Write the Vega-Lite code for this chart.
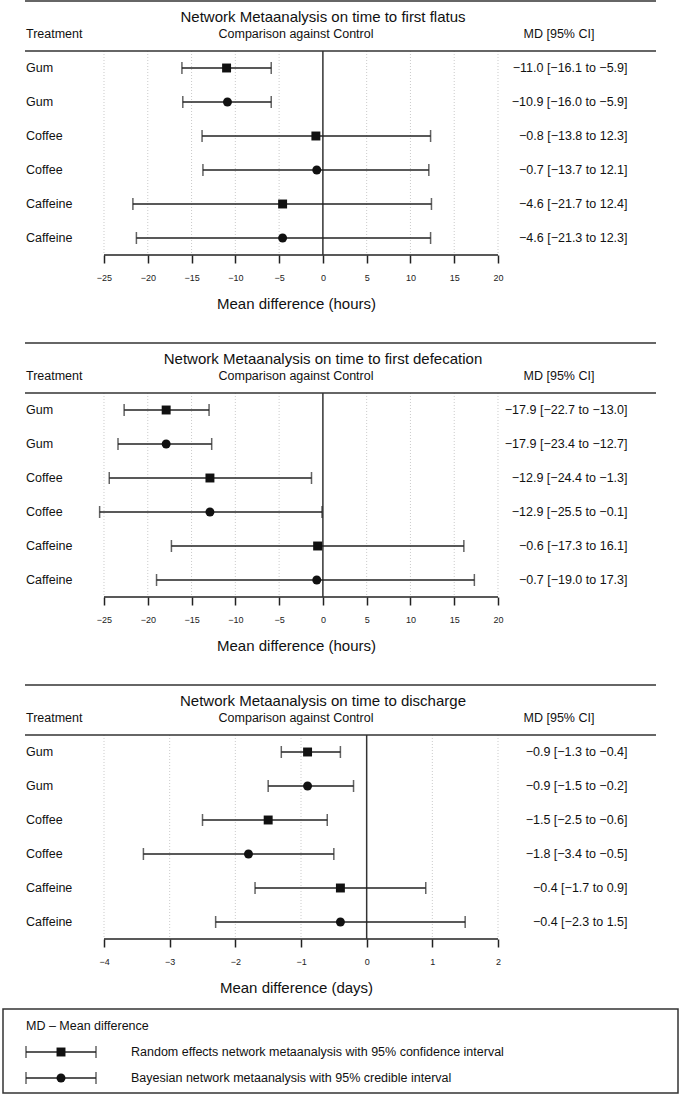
{
  "$schema": "https://vega.github.io/schema/vega-lite/v6.json",
  "padding": 0,
  "bounds": "flush",
  "spacing": 0,
  "background": "white",
  "config": {"font": "Liberation Sans", "view": {"stroke": null}},
  "datasets": {
    "results": [
      {"panel": "flatus", "row": 1, "treatment": "Gum", "method": "RE", "md": -11.0, "lo": -16.1, "hi": -5.9, "label": "−11.0 [−16.1 to −5.9]"},
      {"panel": "flatus", "row": 2, "treatment": "Gum", "method": "Bayes", "md": -10.9, "lo": -16.0, "hi": -5.9, "label": "−10.9 [−16.0 to −5.9]"},
      {"panel": "flatus", "row": 3, "treatment": "Coffee", "method": "RE", "md": -0.8, "lo": -13.8, "hi": 12.3, "label": "−0.8 [−13.8 to 12.3]"},
      {"panel": "flatus", "row": 4, "treatment": "Coffee", "method": "Bayes", "md": -0.7, "lo": -13.7, "hi": 12.1, "label": "−0.7 [−13.7 to 12.1]"},
      {"panel": "flatus", "row": 5, "treatment": "Caffeine", "method": "RE", "md": -4.6, "lo": -21.7, "hi": 12.4, "label": "−4.6 [−21.7 to 12.4]"},
      {"panel": "flatus", "row": 6, "treatment": "Caffeine", "method": "Bayes", "md": -4.6, "lo": -21.3, "hi": 12.3, "label": "−4.6 [−21.3 to 12.3]"},
      {"panel": "defecation", "row": 1, "treatment": "Gum", "method": "RE", "md": -17.9, "lo": -22.7, "hi": -13.0, "label": "−17.9 [−22.7 to −13.0]"},
      {"panel": "defecation", "row": 2, "treatment": "Gum", "method": "Bayes", "md": -17.9, "lo": -23.4, "hi": -12.7, "label": "−17.9 [−23.4 to −12.7]"},
      {"panel": "defecation", "row": 3, "treatment": "Coffee", "method": "RE", "md": -12.9, "lo": -24.4, "hi": -1.3, "label": "−12.9 [−24.4 to −1.3]"},
      {"panel": "defecation", "row": 4, "treatment": "Coffee", "method": "Bayes", "md": -12.9, "lo": -25.5, "hi": -0.1, "label": "−12.9 [−25.5 to −0.1]"},
      {"panel": "defecation", "row": 5, "treatment": "Caffeine", "method": "RE", "md": -0.6, "lo": -17.3, "hi": 16.1, "label": "−0.6 [−17.3 to 16.1]"},
      {"panel": "defecation", "row": 6, "treatment": "Caffeine", "method": "Bayes", "md": -0.7, "lo": -19.0, "hi": 17.3, "label": "−0.7 [−19.0 to 17.3]"},
      {"panel": "discharge", "row": 1, "treatment": "Gum", "method": "RE", "md": -0.9, "lo": -1.3, "hi": -0.4, "label": "−0.9 [−1.3 to −0.4]"},
      {"panel": "discharge", "row": 2, "treatment": "Gum", "method": "Bayes", "md": -0.9, "lo": -1.5, "hi": -0.2, "label": "−0.9 [−1.5 to −0.2]"},
      {"panel": "discharge", "row": 3, "treatment": "Coffee", "method": "RE", "md": -1.5, "lo": -2.5, "hi": -0.6, "label": "−1.5 [−2.5 to −0.6]"},
      {"panel": "discharge", "row": 4, "treatment": "Coffee", "method": "Bayes", "md": -1.8, "lo": -3.4, "hi": -0.5, "label": "−1.8 [−3.4 to −0.5]"},
      {"panel": "discharge", "row": 5, "treatment": "Caffeine", "method": "RE", "md": -0.4, "lo": -1.7, "hi": 0.9, "label": "−0.4 [−1.7 to 0.9]"},
      {"panel": "discharge", "row": 6, "treatment": "Caffeine", "method": "Bayes", "md": -0.4, "lo": -2.3, "hi": 1.5, "label": "−0.4 [−2.3 to 1.5]"}
    ],
    "panels": [
      {"panel": "flatus", "title": "Network Metaanalysis on time to first flatus", "treat": "Treatment", "comp": "Comparison against Control", "mdh": "MD [95% CI]"},
      {"panel": "defecation", "title": "Network Metaanalysis on time to first defecation", "treat": "Treatment", "comp": "Comparison against Control", "mdh": "MD [95% CI]"},
      {"panel": "discharge", "title": "Network Metaanalysis on time to discharge", "treat": "Treatment", "comp": "Comparison against Control", "mdh": "MD [95% CI]"}
    ],
    "ticks_hours": [{"v": -25}, {"v": -20}, {"v": -15}, {"v": -10}, {"v": -5}, {"v": 5}, {"v": 10}, {"v": 15}, {"v": 20}],
    "ticks_days": [{"v": -4}, {"v": -3}, {"v": -2}, {"v": -1}, {"v": 1}, {"v": 2}],
    "legend_head": [{"text": "MD – Mean difference"}],
    "legend_items": [
      {"order": 1, "method": "RE", "text": "Random effects network metaanalysis with 95% confidence interval"},
      {"order": 2, "method": "Bayes", "text": "Bayesian network metaanalysis with 95% credible interval"}
    ]
  },
  "vconcat": [
    {
      "width": 681, "height": 255,
      "layer": [
        {"data": {"name": "ticks_hours"}, "mark": {"type": "rule", "color": "#bdbdbd", "strokeWidth": 0.8, "strokeDash": [1, 2]},
         "encoding": {"x": {"field": "v", "type": "quantitative", "scale": {"domain": [-36.878, 40.901], "nice": false, "zero": false},
                            "axis": {"values": [-25, -20, -15, -10, -5, 0, 5, 10, 15, 20], "format": "d", "title": "Mean difference (hours)", "domain": false, "grid": false, "tickSize": 8, "tickWidth": 1.5, "tickColor": "#222", "labelFontSize": 9, "labelColor": "#222", "labelPadding": 10, "labelFlush": false, "labelOverlap": false, "titleFontSize": 15, "titleFontWeight": "normal", "titleColor": "#111", "titleX": 296, "titleY": 48, "titleBaseline": "middle", "titleAlign": "center"}},
                      "y": {"datum": 0.5, "type": "quantitative", "scale": {"domain": [-1, 6.5], "nice": false, "zero": false, "reverse": true}, "axis": null}, "y2": {"datum": 6.5}}},
        {"data": {"name": "panels"}, "transform": [{"filter": "datum.panel === 'flatus'"}], "mark": {"type": "rule", "color": "#333", "strokeWidth": 1.5},
         "encoding": {"x": {"datum": -34.023, "type": "quantitative"}, "x2": {"datum": 38.046}, "y": {"datum": -0.97, "type": "quantitative"}}},
        {"data": {"name": "panels"}, "transform": [{"filter": "datum.panel === 'flatus'"}], "mark": {"type": "rule", "color": "#333", "strokeWidth": 1.5},
         "encoding": {"x": {"datum": -34.023, "type": "quantitative"}, "x2": {"datum": 38.046}, "y": {"datum": 0.5, "type": "quantitative"}}},
        {"data": {"name": "panels"}, "transform": [{"filter": "datum.panel === 'flatus'"}], "mark": {"type": "rule", "color": "#222", "strokeWidth": 1.5},
         "encoding": {"x": {"datum": -25, "type": "quantitative"}, "x2": {"datum": 20}, "y": {"datum": 6.5, "type": "quantitative"}}},
        {"data": {"name": "panels"}, "transform": [{"filter": "datum.panel === 'flatus'"}], "mark": {"type": "rule", "color": "#333", "strokeWidth": 1.5},
         "encoding": {"x": {"datum": 0, "type": "quantitative"}, "y": {"datum": 0.5, "type": "quantitative"}, "y2": {"datum": 6.5}}},
        {"data": {"name": "results"}, "transform": [{"filter": "datum.panel === 'flatus'"}], "mark": {"type": "rule", "color": "#222", "strokeWidth": 1.5},
         "encoding": {"x": {"field": "lo", "type": "quantitative"}, "x2": {"field": "hi"}, "y": {"field": "row", "type": "quantitative"}}},
        {"data": {"name": "results"}, "transform": [{"filter": "datum.panel === 'flatus'"}], "mark": {"type": "tick", "orient": "vertical", "size": 12, "thickness": 1.5, "color": "#222"},
         "encoding": {"x": {"field": "lo", "type": "quantitative"}, "y": {"field": "row", "type": "quantitative"}}},
        {"data": {"name": "results"}, "transform": [{"filter": "datum.panel === 'flatus'"}], "mark": {"type": "tick", "orient": "vertical", "size": 12, "thickness": 1.5, "color": "#222"},
         "encoding": {"x": {"field": "hi", "type": "quantitative"}, "y": {"field": "row", "type": "quantitative"}}},
        {"data": {"name": "results"}, "transform": [{"filter": "datum.panel === 'flatus'"}], "mark": {"type": "point", "filled": true, "opacity": 1, "size": 80, "color": "#111"},
         "encoding": {"x": {"field": "md", "type": "quantitative"}, "y": {"field": "row", "type": "quantitative"},
                      "shape": {"field": "method", "type": "nominal", "scale": {"domain": ["RE", "Bayes"], "range": ["square", "circle"]}, "legend": null}}},
        {"data": {"name": "results"}, "transform": [{"filter": "datum.panel === 'flatus'"}], "mark": {"type": "text", "align": "left", "baseline": "middle", "fontSize": 12.5, "color": "#111"},
         "encoding": {"x": {"datum": -33.909, "type": "quantitative"}, "y": {"field": "row", "type": "quantitative"}, "text": {"field": "treatment"}}},
        {"data": {"name": "results"}, "transform": [{"filter": "datum.panel === 'flatus'"}], "mark": {"type": "text", "align": "right", "baseline": "middle", "fontSize": 12.5, "color": "#111"},
         "encoding": {"x": {"datum": 34.791, "type": "quantitative"}, "y": {"field": "row", "type": "quantitative"}, "text": {"field": "label"}}},
        {"data": {"name": "panels"}, "transform": [{"filter": "datum.panel === 'flatus'"}], "mark": {"type": "text", "align": "left", "baseline": "middle", "fontSize": 12.5, "color": "#111"},
         "encoding": {"x": {"datum": -33.909, "type": "quantitative"}, "y": {"datum": 0, "type": "quantitative"}, "text": {"field": "treat"}}},
        {"data": {"name": "panels"}, "transform": [{"filter": "datum.panel === 'flatus'"}], "mark": {"type": "text", "align": "center", "baseline": "middle", "fontSize": 12.5, "color": "#111"},
         "encoding": {"x": {"datum": -3.071, "type": "quantitative"}, "y": {"datum": 0, "type": "quantitative"}, "text": {"field": "comp"}}},
        {"data": {"name": "panels"}, "transform": [{"filter": "datum.panel === 'flatus'"}], "mark": {"type": "text", "align": "center", "baseline": "middle", "fontSize": 12.5, "color": "#111"},
         "encoding": {"x": {"datum": 26.967, "type": "quantitative"}, "y": {"datum": 0, "type": "quantitative"}, "text": {"field": "mdh"}}},
        {"data": {"name": "panels"}, "transform": [{"filter": "datum.panel === 'flatus'"}], "mark": {"type": "text", "align": "center", "baseline": "middle", "fontSize": 15, "color": "#111"},
         "encoding": {"x": {"datum": 0.013, "type": "quantitative"}, "y": {"datum": -0.5, "type": "quantitative"}, "text": {"field": "title"}}}
      ]
    },
    {
      "width": 681, "height": 342,
      "layer": [
        {"data": {"name": "ticks_hours"}, "mark": {"type": "rule", "color": "#bdbdbd", "strokeWidth": 0.8, "strokeDash": [1, 2]},
         "encoding": {"x": {"field": "v", "type": "quantitative", "scale": {"domain": [-36.878, 40.901], "nice": false, "zero": false},
                            "axis": {"values": [-25, -20, -15, -10, -5, 0, 5, 10, 15, 20], "format": "d", "title": "Mean difference (hours)", "domain": false, "grid": false, "tickSize": 8, "tickWidth": 1.5, "tickColor": "#222", "labelFontSize": 9, "labelColor": "#222", "labelPadding": 10, "labelFlush": false, "labelOverlap": false, "titleFontSize": 15, "titleFontWeight": "normal", "titleColor": "#111", "titleX": 296, "titleY": 48, "titleBaseline": "middle", "titleAlign": "center"}},
                      "y": {"datum": 0.5, "type": "quantitative", "scale": {"domain": [-3.5588, 6.5], "nice": false, "zero": false, "reverse": true}, "axis": null}, "y2": {"datum": 6.5}}},
        {"data": {"name": "panels"}, "transform": [{"filter": "datum.panel === 'defecation'"}], "mark": {"type": "rule", "color": "#333", "strokeWidth": 1.5},
         "encoding": {"x": {"datum": -34.023, "type": "quantitative"}, "x2": {"datum": 38.046}, "y": {"datum": -0.97, "type": "quantitative"}}},
        {"data": {"name": "panels"}, "transform": [{"filter": "datum.panel === 'defecation'"}], "mark": {"type": "rule", "color": "#333", "strokeWidth": 1.5},
         "encoding": {"x": {"datum": -34.023, "type": "quantitative"}, "x2": {"datum": 38.046}, "y": {"datum": 0.5, "type": "quantitative"}}},
        {"data": {"name": "panels"}, "transform": [{"filter": "datum.panel === 'defecation'"}], "mark": {"type": "rule", "color": "#222", "strokeWidth": 1.5},
         "encoding": {"x": {"datum": -25, "type": "quantitative"}, "x2": {"datum": 20}, "y": {"datum": 6.5, "type": "quantitative"}}},
        {"data": {"name": "panels"}, "transform": [{"filter": "datum.panel === 'defecation'"}], "mark": {"type": "rule", "color": "#333", "strokeWidth": 1.5},
         "encoding": {"x": {"datum": 0, "type": "quantitative"}, "y": {"datum": 0.5, "type": "quantitative"}, "y2": {"datum": 6.5}}},
        {"data": {"name": "results"}, "transform": [{"filter": "datum.panel === 'defecation'"}], "mark": {"type": "rule", "color": "#222", "strokeWidth": 1.5},
         "encoding": {"x": {"field": "lo", "type": "quantitative"}, "x2": {"field": "hi"}, "y": {"field": "row", "type": "quantitative"}}},
        {"data": {"name": "results"}, "transform": [{"filter": "datum.panel === 'defecation'"}], "mark": {"type": "tick", "orient": "vertical", "size": 12, "thickness": 1.5, "color": "#222"},
         "encoding": {"x": {"field": "lo", "type": "quantitative"}, "y": {"field": "row", "type": "quantitative"}}},
        {"data": {"name": "results"}, "transform": [{"filter": "datum.panel === 'defecation'"}], "mark": {"type": "tick", "orient": "vertical", "size": 12, "thickness": 1.5, "color": "#222"},
         "encoding": {"x": {"field": "hi", "type": "quantitative"}, "y": {"field": "row", "type": "quantitative"}}},
        {"data": {"name": "results"}, "transform": [{"filter": "datum.panel === 'defecation'"}], "mark": {"type": "point", "filled": true, "opacity": 1, "size": 80, "color": "#111"},
         "encoding": {"x": {"field": "md", "type": "quantitative"}, "y": {"field": "row", "type": "quantitative"},
                      "shape": {"field": "method", "type": "nominal", "scale": {"domain": ["RE", "Bayes"], "range": ["square", "circle"]}, "legend": null}}},
        {"data": {"name": "results"}, "transform": [{"filter": "datum.panel === 'defecation'"}], "mark": {"type": "text", "align": "left", "baseline": "middle", "fontSize": 12.5, "color": "#111"},
         "encoding": {"x": {"datum": -33.909, "type": "quantitative"}, "y": {"field": "row", "type": "quantitative"}, "text": {"field": "treatment"}}},
        {"data": {"name": "results"}, "transform": [{"filter": "datum.panel === 'defecation'"}], "mark": {"type": "text", "align": "right", "baseline": "middle", "fontSize": 12.5, "color": "#111"},
         "encoding": {"x": {"datum": 34.791, "type": "quantitative"}, "y": {"field": "row", "type": "quantitative"}, "text": {"field": "label"}}},
        {"data": {"name": "panels"}, "transform": [{"filter": "datum.panel === 'defecation'"}], "mark": {"type": "text", "align": "left", "baseline": "middle", "fontSize": 12.5, "color": "#111"},
         "encoding": {"x": {"datum": -33.909, "type": "quantitative"}, "y": {"datum": 0, "type": "quantitative"}, "text": {"field": "treat"}}},
        {"data": {"name": "panels"}, "transform": [{"filter": "datum.panel === 'defecation'"}], "mark": {"type": "text", "align": "center", "baseline": "middle", "fontSize": 12.5, "color": "#111"},
         "encoding": {"x": {"datum": -3.071, "type": "quantitative"}, "y": {"datum": 0, "type": "quantitative"}, "text": {"field": "comp"}}},
        {"data": {"name": "panels"}, "transform": [{"filter": "datum.panel === 'defecation'"}], "mark": {"type": "text", "align": "center", "baseline": "middle", "fontSize": 12.5, "color": "#111"},
         "encoding": {"x": {"datum": 26.967, "type": "quantitative"}, "y": {"datum": 0, "type": "quantitative"}, "text": {"field": "mdh"}}},
        {"data": {"name": "panels"}, "transform": [{"filter": "datum.panel === 'defecation'"}], "mark": {"type": "text", "align": "center", "baseline": "middle", "fontSize": 15, "color": "#111"},
         "encoding": {"x": {"datum": 0.013, "type": "quantitative"}, "y": {"datum": -0.5, "type": "quantitative"}, "text": {"field": "title"}}}
      ]
    },
    {
      "width": 681, "height": 342,
      "layer": [
        {"data": {"name": "ticks_days"}, "mark": {"type": "rule", "color": "#bdbdbd", "strokeWidth": 0.8, "strokeDash": [1, 2]},
         "encoding": {"x": {"field": "v", "type": "quantitative", "scale": {"domain": [-5.5838, 4.7868], "nice": false, "zero": false},
                            "axis": {"values": [-4, -3, -2, -1, 0, 1, 2], "format": "d", "title": "Mean difference (days)", "domain": false, "grid": false, "tickSize": 8, "tickWidth": 1.5, "tickColor": "#222", "labelFontSize": 9, "labelColor": "#222", "labelPadding": 10, "labelFlush": false, "labelOverlap": false, "titleFontSize": 15, "titleFontWeight": "normal", "titleColor": "#111", "titleX": 296, "titleY": 48, "titleBaseline": "middle", "titleAlign": "center"}},
                      "y": {"datum": 0.5, "type": "quantitative", "scale": {"domain": [-3.5588, 6.5], "nice": false, "zero": false, "reverse": true}, "axis": null}, "y2": {"datum": 6.5}}},
        {"data": {"name": "panels"}, "transform": [{"filter": "datum.panel === 'discharge'"}], "mark": {"type": "rule", "color": "#333", "strokeWidth": 1.5},
         "encoding": {"x": {"datum": -5.203, "type": "quantitative"}, "x2": {"datum": 4.406}, "y": {"datum": -0.97, "type": "quantitative"}}},
        {"data": {"name": "panels"}, "transform": [{"filter": "datum.panel === 'discharge'"}], "mark": {"type": "rule", "color": "#333", "strokeWidth": 1.5},
         "encoding": {"x": {"datum": -5.203, "type": "quantitative"}, "x2": {"datum": 4.406}, "y": {"datum": 0.5, "type": "quantitative"}}},
        {"data": {"name": "panels"}, "transform": [{"filter": "datum.panel === 'discharge'"}], "mark": {"type": "rule", "color": "#222", "strokeWidth": 1.5},
         "encoding": {"x": {"datum": -4, "type": "quantitative"}, "x2": {"datum": 2}, "y": {"datum": 6.5, "type": "quantitative"}}},
        {"data": {"name": "panels"}, "transform": [{"filter": "datum.panel === 'discharge'"}], "mark": {"type": "rule", "color": "#333", "strokeWidth": 1.5},
         "encoding": {"x": {"datum": 0, "type": "quantitative"}, "y": {"datum": 0.5, "type": "quantitative"}, "y2": {"datum": 6.5}}},
        {"data": {"name": "results"}, "transform": [{"filter": "datum.panel === 'discharge'"}], "mark": {"type": "rule", "color": "#222", "strokeWidth": 1.5},
         "encoding": {"x": {"field": "lo", "type": "quantitative"}, "x2": {"field": "hi"}, "y": {"field": "row", "type": "quantitative"}}},
        {"data": {"name": "results"}, "transform": [{"filter": "datum.panel === 'discharge'"}], "mark": {"type": "tick", "orient": "vertical", "size": 12, "thickness": 1.5, "color": "#222"},
         "encoding": {"x": {"field": "lo", "type": "quantitative"}, "y": {"field": "row", "type": "quantitative"}}},
        {"data": {"name": "results"}, "transform": [{"filter": "datum.panel === 'discharge'"}], "mark": {"type": "tick", "orient": "vertical", "size": 12, "thickness": 1.5, "color": "#222"},
         "encoding": {"x": {"field": "hi", "type": "quantitative"}, "y": {"field": "row", "type": "quantitative"}}},
        {"data": {"name": "results"}, "transform": [{"filter": "datum.panel === 'discharge'"}], "mark": {"type": "point", "filled": true, "opacity": 1, "size": 80, "color": "#111"},
         "encoding": {"x": {"field": "md", "type": "quantitative"}, "y": {"field": "row", "type": "quantitative"},
                      "shape": {"field": "method", "type": "nominal", "scale": {"domain": ["RE", "Bayes"], "range": ["square", "circle"]}, "legend": null}}},
        {"data": {"name": "results"}, "transform": [{"filter": "datum.panel === 'discharge'"}], "mark": {"type": "text", "align": "left", "baseline": "middle", "fontSize": 12.5, "color": "#111"},
         "encoding": {"x": {"datum": -5.188, "type": "quantitative"}, "y": {"field": "row", "type": "quantitative"}, "text": {"field": "treatment"}}},
        {"data": {"name": "results"}, "transform": [{"filter": "datum.panel === 'discharge'"}], "mark": {"type": "text", "align": "right", "baseline": "middle", "fontSize": 12.5, "color": "#111"},
         "encoding": {"x": {"datum": 3.972, "type": "quantitative"}, "y": {"field": "row", "type": "quantitative"}, "text": {"field": "label"}}},
        {"data": {"name": "panels"}, "transform": [{"filter": "datum.panel === 'discharge'"}], "mark": {"type": "text", "align": "left", "baseline": "middle", "fontSize": 12.5, "color": "#111"},
         "encoding": {"x": {"datum": -5.188, "type": "quantitative"}, "y": {"datum": 0, "type": "quantitative"}, "text": {"field": "treat"}}},
        {"data": {"name": "panels"}, "transform": [{"filter": "datum.panel === 'discharge'"}], "mark": {"type": "text", "align": "center", "baseline": "middle", "fontSize": 12.5, "color": "#111"},
         "encoding": {"x": {"datum": -1.076, "type": "quantitative"}, "y": {"datum": 0, "type": "quantitative"}, "text": {"field": "comp"}}},
        {"data": {"name": "panels"}, "transform": [{"filter": "datum.panel === 'discharge'"}], "mark": {"type": "text", "align": "center", "baseline": "middle", "fontSize": 12.5, "color": "#111"},
         "encoding": {"x": {"datum": 2.929, "type": "quantitative"}, "y": {"datum": 0, "type": "quantitative"}, "text": {"field": "mdh"}}},
        {"data": {"name": "panels"}, "transform": [{"filter": "datum.panel === 'discharge'"}], "mark": {"type": "text", "align": "center", "baseline": "middle", "fontSize": 15, "color": "#111"},
         "encoding": {"x": {"datum": -0.665, "type": "quantitative"}, "y": {"datum": -0.5, "type": "quantitative"}, "text": {"field": "title"}}}
      ]
    },
    {
      "width": 681, "height": 157,
      "layer": [
        {"data": {"name": "legend_head"}, "mark": {"type": "rect", "fill": "transparent", "stroke": "#333", "strokeWidth": 1.5},
         "encoding": {"x": {"datum": 3, "type": "quantitative", "scale": {"domain": [0, 681], "nice": false, "zero": false}, "axis": null}, "x2": {"datum": 678},
                      "y": {"datum": -0.654, "type": "quantitative", "scale": {"domain": [-3.346, 2.692], "nice": false, "zero": false, "reverse": true}, "axis": null}, "y2": {"datum": 2.577}}},
        {"data": {"name": "legend_head"}, "mark": {"type": "text", "align": "left", "baseline": "middle", "fontSize": 12.5, "color": "#111"},
         "encoding": {"x": {"datum": 26, "type": "quantitative"}, "y": {"datum": 0, "type": "quantitative"}, "text": {"field": "text"}}},
        {"data": {"name": "legend_items"}, "mark": {"type": "rule", "color": "#222", "strokeWidth": 1.5},
         "encoding": {"x": {"datum": 26, "type": "quantitative"}, "x2": {"datum": 96}, "y": {"field": "order", "type": "quantitative"}}},
        {"data": {"name": "legend_items"}, "mark": {"type": "tick", "orient": "vertical", "size": 12, "thickness": 1.5, "color": "#222"},
         "encoding": {"x": {"datum": 26, "type": "quantitative"}, "y": {"field": "order", "type": "quantitative"}}},
        {"data": {"name": "legend_items"}, "mark": {"type": "tick", "orient": "vertical", "size": 12, "thickness": 1.5, "color": "#222"},
         "encoding": {"x": {"datum": 96, "type": "quantitative"}, "y": {"field": "order", "type": "quantitative"}}},
        {"data": {"name": "legend_items"}, "mark": {"type": "point", "filled": true, "opacity": 1, "size": 80, "color": "#111"},
         "encoding": {"x": {"datum": 61, "type": "quantitative"}, "y": {"field": "order", "type": "quantitative"},
                      "shape": {"field": "method", "type": "nominal", "scale": {"domain": ["RE", "Bayes"], "range": ["square", "circle"]}, "legend": null}}},
        {"data": {"name": "legend_items"}, "mark": {"type": "text", "align": "left", "baseline": "middle", "fontSize": 12.5, "color": "#111"},
         "encoding": {"x": {"datum": 131, "type": "quantitative"}, "y": {"field": "order", "type": "quantitative"}, "text": {"field": "text"}}}
      ]
    }
  ]
}
